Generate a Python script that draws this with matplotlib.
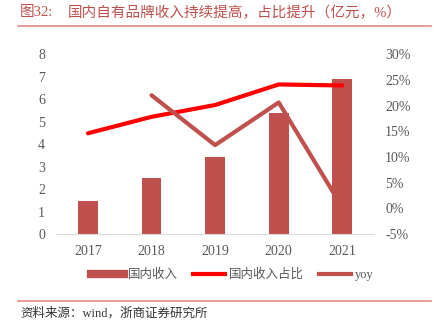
import matplotlib.pyplot as plt
from matplotlib.lines import Line2D

plt.rcParams['font.family'] = ['Liberation Serif', 'Noto Sans CJK SC']

years = ['2017', '2018', '2019', '2020', '2021']
revenue = [1.47, 2.5, 3.41, 5.36, 6.89]          # 国内收入 (亿元)
share = [14.6, 17.8, 20.1, 24.1, 23.9]            # 国内收入占比 (%)
yoy_years = ['2018', '2019', '2020', '2021']
yoy = [22.0, 12.3, 20.6, 0.2]                     # yoy (%)

bar_color = '#C0504D'
tick_color = '#595959'

fig = plt.figure(figsize=(4.35, 3.32), dpi=100)
ax = fig.add_axes([0.129, 0.295, 0.731, 0.542])
x = list(range(len(years)))
ax.bar(x, revenue, width=0.31, color=bar_color, zorder=2)
ax.set_ylim(0, 8)
ax.set_xlim(-0.5, 4.5)
ax.set_yticks(range(0, 9))
ax.set_xticks(x)
ax.set_xticklabels(years)
for s in ['top', 'right', 'left']:
    ax.spines[s].set_visible(False)
ax.spines['bottom'].set_color('#D9D9D9')
ax.tick_params(axis='both', length=0, colors=tick_color, labelsize=10)
ax.tick_params(axis='x', pad=8)
ax.tick_params(axis='y', pad=8)

ax2 = ax.twinx()
ax2.plot(x, share, color='#FF0000', lw=3, zorder=3, solid_capstyle='round')
yoy_x = [years.index(y) for y in yoy_years]
ax2.plot(yoy_x, yoy, color=bar_color, lw=3, zorder=3, solid_capstyle='round')
ax2.set_ylim(-5, 30)
ax2.set_yticks(range(-5, 31, 5))
ax2.set_yticklabels([f'{v}%' for v in range(-5, 31, 5)])
for s in ax2.spines.values():
    s.set_visible(False)
ax2.tick_params(axis='y', length=0, colors=tick_color, labelsize=10, pad=8)

handles = [
    Line2D([0], [0], color=bar_color, lw=6),
    Line2D([0], [0], color='#FF0000', lw=3),
    Line2D([0], [0], color=bar_color, lw=3),
]
labels = ['国内收入', '国内收入占比', 'yoy']
fig.legend(handles, labels, loc='center', bbox_to_anchor=(0.535, 0.172), ncol=3,
           frameon=False, fontsize=9, handlelength=2.6, handletextpad=0.3,
           columnspacing=1.2, labelcolor=tick_color)

fig.text(0.046, 0.961, '图32:', color='#C0504D', fontsize=10.5, va='center')
fig.text(0.156, 0.961, '国内自有品牌收入持续提高，占比提升（亿元，%）', color='#C0504D',
         fontsize=10.5, va='center')
fig.add_artist(Line2D([0.042, 0.99], [0.922, 0.922], color='#E48A88', lw=1.2))
fig.add_artist(Line2D([0.042, 0.99], [0.094, 0.094], color='#E48A88', lw=1.2))
fig.text(0.046, 0.057, '资料来源：wind，浙商证券研究所', fontsize=9, va='center', color='#333333')

fig.savefig('out.png', dpi=100)
